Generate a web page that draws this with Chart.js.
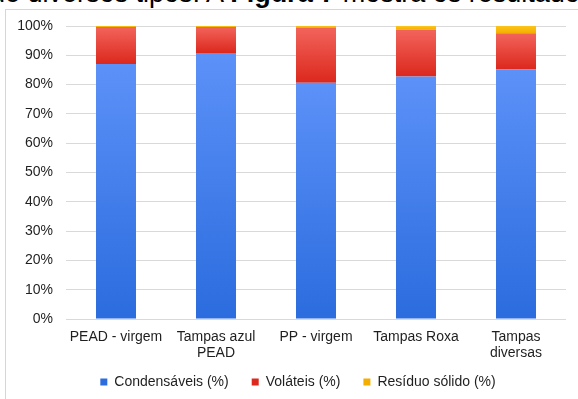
<!DOCTYPE html>
<html>
<head>
<meta charset="utf-8">
<script src="https://cdn.jsdelivr.net/npm/chart.js@4/dist/chart.umd.min.js"></script>
<style>
  html, body { margin: 0; padding: 0; background: #fff; overflow: hidden; }
  body { width: 578px; height: 399px; position: relative; }
  #lead {
    position: absolute; left: -10px; top: -20px; white-space: nowrap;
    font-family: "Liberation Sans", Arial, sans-serif; font-size: 27px; line-height: 27px; color: #000;
  }
  #frame {
    position: absolute; left: 5px; top: 9px; width: 620px; height: 440px;
    border: 1px solid #d6d6d6; background: #fff;
  }
  #chart { position: absolute; left: 0; top: 0; }
</style>
</head>
<body>
<div id="lead">de diversos tipos. A <b>Figura 7</b> mostra os resultados</div>
<div id="frame"></div>
<canvas id="chart" width="578" height="399"></canvas>
<script>
// Sample categories and mass fractions (%) of each pyrolysis product
const categories = ['PEAD - virgem', ['Tampas azul', 'PEAD'], 'PP - virgem', 'Tampas Roxa', ['Tampas', 'diversas']];
const condensaveis = [87.0, 90.8, 80.6, 82.8, 85.2];
const volateis = [12.7, 8.9, 18.9, 15.9, 12.3];
const residuo = [0.3, 0.3, 0.5, 1.3, 2.5];
const yTicks = [0, 10, 20, 30, 40, 50, 60, 70, 80, 90, 100];

const seriesValues = [condensaveis, volateis, residuo];

// Each segment is shaded from a lighter top to a darker bottom
function segmentFill(seriesIdx, top, bottom, solid) {
  return function (ctx) {
    const chart = ctx.chart;
    const y = chart.scales && chart.scales.y;
    if (ctx.dataIndex === undefined || !chart.chartArea || !y) return solid;
    let base = 0;
    for (let s = 0; s < seriesIdx; s++) base += seriesValues[s][ctx.dataIndex];
    const end = base + seriesValues[seriesIdx][ctx.dataIndex];
    const y0 = y.getPixelForValue(end);
    const y1 = y.getPixelForValue(base);
    if (!isFinite(y0) || !isFinite(y1) || y0 === y1) return solid;
    const g = chart.ctx.createLinearGradient(0, y0, 0, y1);
    g.addColorStop(0, top);
    g.addColorStop(1, bottom);
    return g;
  };
}

// tick labels may spill outside their axis box
const noLabelClip = (s) => { s._computeLabelArea = () => undefined; };

const font = { family: '"Liberation Sans", Arial, sans-serif', size: 14 };

new Chart(document.getElementById('chart'), {
  type: 'bar',
  data: {
    labels: categories,
    datasets: [
      { label: 'Condensáveis (%)', data: condensaveis,
        backgroundColor: segmentFill(0, '#5c91f8', '#2b6cde', '#4285f4'), borderWidth: 0 },
      { label: 'Voláteis (%)', data: volateis,
        backgroundColor: segmentFill(1, '#f2645b', '#dc281d', '#ea4335'), borderWidth: 0 },
      { label: 'Resíduo sólido (%)', data: residuo,
        backgroundColor: segmentFill(2, '#fcc51c', '#f4ae00', '#fbbc04'), borderWidth: 0 }
    ]
  },
  options: {
    responsive: false,
    animation: false,
    devicePixelRatio: 1,
    layout: { padding: { left: 30, right: 12, top: 26, bottom: 0 } },
    datasets: { bar: { categoryPercentage: 0.8, barPercentage: 0.5 } },
    scales: {
      x: {
        stacked: true,
        grid: { display: false, drawTicks: false },
        border: { display: false },
        ticks: { color: '#1f1f1f', font: { ...font, lineHeight: 16 / 14 }, padding: 10, maxRotation: 0, autoSkip: false },
        afterFit: (s) => { s.height = 33; noLabelClip(s); }
      },
      y: {
        stacked: true,
        min: 0, max: 100,
        afterBuildTicks: (s) => { s.ticks = yTicks.map(v => ({ value: v })); },
        grid: { color: '#d9d9d9', lineWidth: 1, drawTicks: false },
        border: { display: false },
        ticks: { color: '#1f1f1f', font, padding: 13, callback: (v) => v + '%' },
        afterFit: (s) => { s.width = 36; noLabelClip(s); }
      }
    },
    plugins: {
      legend: {
        position: 'bottom',
        labels: { color: '#1f1f1f', font, boxWidth: 7, boxHeight: 7, padding: 23 }
      },
      tooltip: { enabled: false }
    }
  }
});
</script>
</body>
</html>
